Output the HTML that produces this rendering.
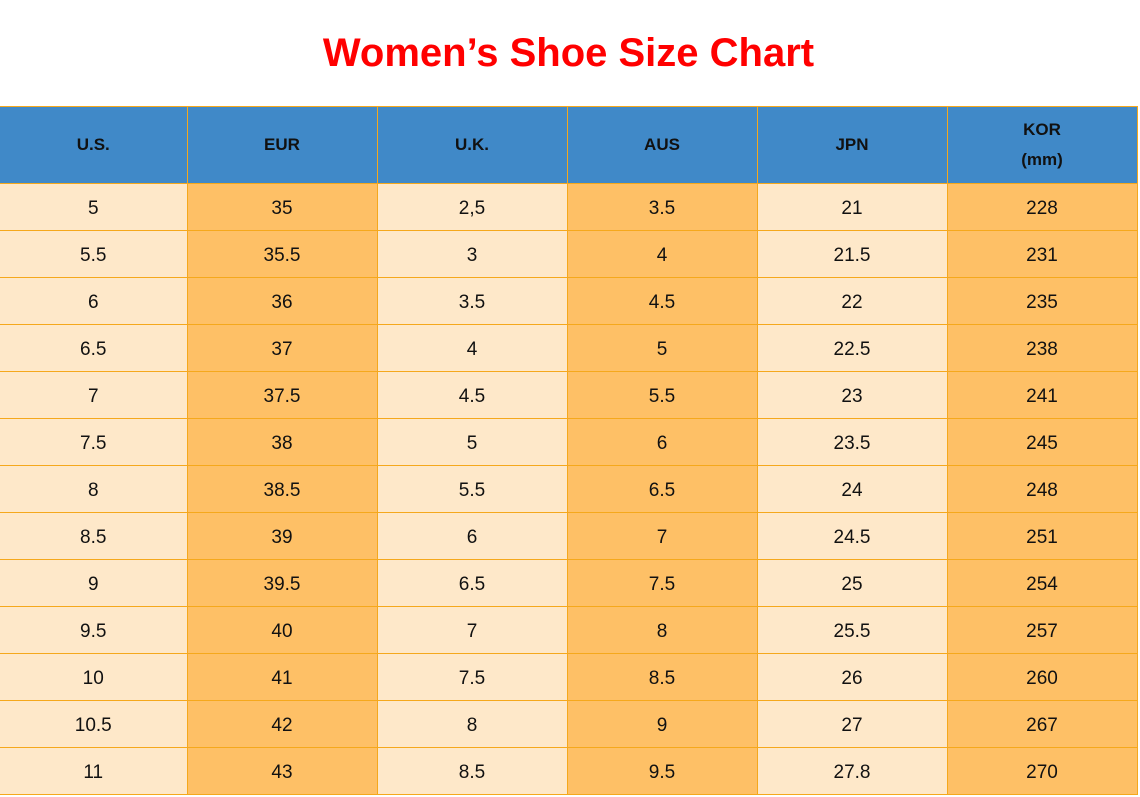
<!DOCTYPE html>
<html><head><meta charset="utf-8"><style>
body{margin:0;width:1140px;height:797px;background:#fff;position:relative;overflow:hidden;font-family:"Liberation Sans",Arial,sans-serif}
h1{position:absolute;top:29px;left:0;width:1137px;margin:0;text-align:center;color:#ff0000;font-size:40px;line-height:48px;font-weight:bold}
table{position:absolute;top:106px;left:0;border-collapse:collapse;table-layout:fixed}
td,th{border:1px solid #f5a81c;text-align:center;padding:0;font-size:19px;color:#111}
th{background:#4089c8;height:76px;font-size:17px;font-weight:bold;line-height:30px}
td{height:43px;padding-top:3px}
td.a{background:#fee8c9}td.b{background:#fec066}
tr>*:first-child{border-left:none}
</style></head><body>
<h1>Women’s Shoe Size Chart</h1>
<table>
<colgroup><col style="width:187px"><col style="width:190px"><col style="width:190px"><col style="width:190px"><col style="width:190px"><col style="width:190px"></colgroup>
<tr><th>U.S.</th><th>EUR</th><th>U.K.</th><th>AUS</th><th>JPN</th><th>KOR<br>(mm)</th></tr>
<tr><td class="a">5</td><td class="b">35</td><td class="a">2,5</td><td class="b">3.5</td><td class="a">21</td><td class="b">228</td></tr>
<tr><td class="a">5.5</td><td class="b">35.5</td><td class="a">3</td><td class="b">4</td><td class="a">21.5</td><td class="b">231</td></tr>
<tr><td class="a">6</td><td class="b">36</td><td class="a">3.5</td><td class="b">4.5</td><td class="a">22</td><td class="b">235</td></tr>
<tr><td class="a">6.5</td><td class="b">37</td><td class="a">4</td><td class="b">5</td><td class="a">22.5</td><td class="b">238</td></tr>
<tr><td class="a">7</td><td class="b">37.5</td><td class="a">4.5</td><td class="b">5.5</td><td class="a">23</td><td class="b">241</td></tr>
<tr><td class="a">7.5</td><td class="b">38</td><td class="a">5</td><td class="b">6</td><td class="a">23.5</td><td class="b">245</td></tr>
<tr><td class="a">8</td><td class="b">38.5</td><td class="a">5.5</td><td class="b">6.5</td><td class="a">24</td><td class="b">248</td></tr>
<tr><td class="a">8.5</td><td class="b">39</td><td class="a">6</td><td class="b">7</td><td class="a">24.5</td><td class="b">251</td></tr>
<tr><td class="a">9</td><td class="b">39.5</td><td class="a">6.5</td><td class="b">7.5</td><td class="a">25</td><td class="b">254</td></tr>
<tr><td class="a">9.5</td><td class="b">40</td><td class="a">7</td><td class="b">8</td><td class="a">25.5</td><td class="b">257</td></tr>
<tr><td class="a">10</td><td class="b">41</td><td class="a">7.5</td><td class="b">8.5</td><td class="a">26</td><td class="b">260</td></tr>
<tr><td class="a">10.5</td><td class="b">42</td><td class="a">8</td><td class="b">9</td><td class="a">27</td><td class="b">267</td></tr>
<tr><td class="a">11</td><td class="b">43</td><td class="a">8.5</td><td class="b">9.5</td><td class="a">27.8</td><td class="b">270</td></tr>
</table>
</body></html>
